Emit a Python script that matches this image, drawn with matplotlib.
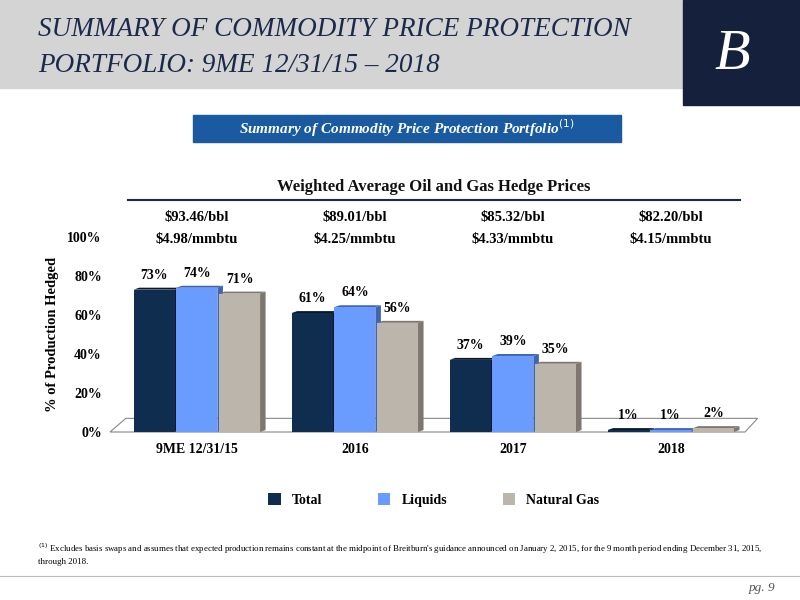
import matplotlib
matplotlib.use("Agg")
import matplotlib.pyplot as plt
from matplotlib.patches import Rectangle, Polygon

categories = ["9ME 12/31/15", "2016", "2017", "2018"]
total = [73, 61, 37, 1]
liquids = [74, 64, 39, 1]
natgas = [71, 56, 35, 2]
oil_prices = ["$93.46/bbl", "$89.01/bbl", "$85.32/bbl", "$82.20/bbl"]
gas_prices = ["$4.98/mmbtu", "$4.25/mmbtu", "$4.33/mmbtu", "$4.15/mmbtu"]
series_names = ["Total", "Liquids", "Natural Gas"]
colors = ["#0f2d4f", "#6a9bff", "#bcb5ac"]
side = ["#08192d", "#3f64b5", "#7d7770"]

plt.rcParams['font.family'] = ['Liberation Serif', 'DejaVu Serif']
fig = plt.figure(figsize=(8, 6), dpi=100)
navy = "#1b2a4a"

# header
fig.patches.append(Rectangle((0, 1-88/600), 1, 88/600, transform=fig.transFigure, color="#d4d4d4", zorder=0))
fig.patches.append(Rectangle((683/800, 1-105/600), 117/800, 105/600, transform=fig.transFigure, color="#14203c", zorder=1))
fig.text(0.915, 1-55/600, "B", color="white", fontsize=42, style="italic", ha="center", va="center", family="Liberation Serif")
fig.text(38/800, 1-30/600, "SUMMARY OF COMMODITY PRICE PROTECTION", color=navy, fontsize=19.5, style="italic", va="center")
fig.text(38/800, 1-66/600, "PORTFOLIO: 9ME 12/31/15 \u2013 2018", color=navy, fontsize=19.5, style="italic", va="center")
fig.patches.append(Rectangle((193/800, 1-142/600), 428/800, 27/600, transform=fig.transFigure, color="#1a5aa0", zorder=1))
fig.text(407/800, 1-128/600, r"Summary of Commodity Price Protection Portfolio$^{(1)}$", color="white", fontsize=11, style="italic", weight="bold", ha="center", va="center")
fig.text(434/800, 1-187/600, "Weighted Average Oil and Gas Hedge Prices", color="#111111", fontsize=12, weight="bold", ha="center", va="center")
fig.lines.append(plt.Line2D([128/800, 740/800], [1-200/600]*2, transform=fig.transFigure, color=navy, lw=1.5))

ax = fig.add_axes([110/800, 168/600, 635/800, 195/600])
ax.set_xlim(-0.55, 3.47)
ax.set_ylim(0, 100)
w = 0.26
offs = [-0.27, 0.0, 0.27]
dx, dy = 0.035, 1.0
# floor
ax.add_patch(Polygon([(-0.55, 0), (3.47, 0), (3.55, 7), (-0.45, 7)], closed=True, fc="white", ec="#888888", lw=0.8, clip_on=False, zorder=0))
for s, vals in enumerate([total, liquids, natgas]):
    for i, v in enumerate(vals):
        x = i + offs[s] - w/2
        ax.add_patch(Polygon([(x+w, 0), (x+w+dx, dy), (x+w+dx, v+dy), (x+w, v)], closed=True, fc=side[s], zorder=2+s))
        ax.add_patch(Polygon([(x, v), (x+dx, v+dy), (x+w+dx, v+dy), (x+w, v)], closed=True, fc=side[s], zorder=2+s))
        ax.bar(i + offs[s], v, width=w, color=colors[s], zorder=2+s, label=series_names[s] if i == 0 else None)
        ax.text(i + offs[s], v + 4, f"{v}%", ha="center", va="bottom", fontsize=10, weight="bold", zorder=10)
for i in range(4):
    ax.text(i, 98.5, gas_prices[i], ha="center", va="center", fontsize=10.5, weight="bold", clip_on=False)
    ax.text(i, 110, oil_prices[i], ha="center", va="center", fontsize=10.5, weight="bold", clip_on=False)
ax.set_yticks(range(0, 101, 20))
ax.set_yticklabels([f"{t}%" for t in range(0, 101, 20)], fontsize=10, weight="bold")
ax.set_xticks(range(4))
ax.set_xticklabels(categories, fontsize=10, weight="bold")
ax.tick_params(length=0, pad=6)
ax.tick_params(axis="x", pad=8)
for sp in ["top", "right", "left", "bottom"]:
    ax.spines[sp].set_visible(False)
ax.set_ylabel("% of Production Hedged", fontsize=10.5, weight="bold", labelpad=6)
ax.legend(loc="upper center", bbox_to_anchor=(0.51, -0.25), ncol=3, frameon=False,
          prop={"weight": "bold", "size": 10}, handlelength=0.9, handleheight=0.9, columnspacing=4)

fig.text(38/800, 1-549/600, r"$^{(1)}$ Excludes basis swaps and assumes that expected production remains constant at the midpoint of Breitburn's guidance announced on January 2, 2015, for the 9 month period ending December 31, 2015,", fontsize=6.4, va="center")
fig.text(38/800, 1-562/600, "through 2018.", fontsize=6.4, va="center")
fig.lines.append(plt.Line2D([0, 1], [1-576/600]*2, transform=fig.transFigure, color="#bbbbbb", lw=0.8))
fig.text(775/800, 1-588/600, "pg. 9", fontsize=9.5, style="italic", color="#555555", ha="right", va="center")
fig.savefig("out.png", dpi=100)
